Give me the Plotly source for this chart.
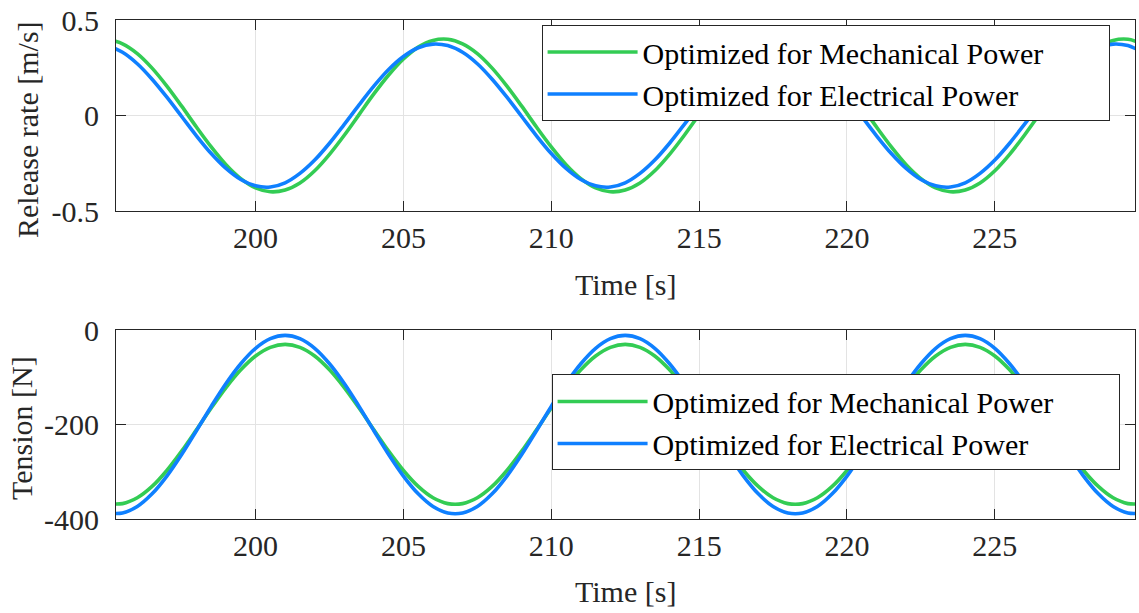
import plotly.graph_objects as go
from plotly.subplots import make_subplots

# ---- data (0.5 s sampling) ----
time_s = [195.0 + 0.5 * k for k in range(71)]

_rel_mech_cycle = [0.399, 0.375, 0.324, 0.248, 0.154, 0.049, -0.060, -0.164, -0.257, -0.330,
                   -0.379, -0.399, -0.390, -0.353, -0.289, -0.203, -0.103, 0.005, 0.113, 0.212,
                   0.296, 0.358, 0.393]
_rel_elec_cycle = [0.366, 0.331, 0.271, 0.190, 0.096, -0.005, -0.106, -0.199, -0.277, -0.335,
                   -0.368, -0.374, -0.352, -0.303, -0.233, -0.145, -0.046, 0.056, 0.154, 0.241,
                   0.309, 0.355, 0.374]
_ten_mech_cycle = [-367.4, -367.4, -355.0, -331.0, -297.2, -256.3, -211.1, -165.0, -121.5, -83.9,
                   -54.7, -36.3, -30.0, -36.3, -54.7, -83.9, -121.5, -165.0, -211.1, -256.3,
                   -297.2, -331.0, -355.0]
_ten_elec_cycle = [-387.2, -387.2, -373.4, -346.6, -309.0, -263.3, -212.9, -161.5, -113.0, -71.1,
                   -38.5, -18.0, -11.0, -18.0, -38.5, -71.1, -113.0, -161.5, -212.9, -263.3,
                   -309.0, -346.6, -373.4]

release_mech = (_rel_mech_cycle * 4)[:71]
release_elec = (_rel_elec_cycle * 4)[:71]
tension_mech = (_ten_mech_cycle * 4)[:71]
tension_elec = (_ten_elec_cycle * 4)[:71]

series_names = ["Optimized for Mechanical Power", "Optimized for Electrical Power"]
x_ticks = [200, 205, 210, 215, 220, 225]
top_y_ticks = [-0.5, 0, 0.5]
top_y_labels = ["-0.5", "0", "0.5"]
bot_y_ticks = [-400, -200, 0]
bot_y_labels = ["-400", "-200", "0"]

GREEN = "#33CC54"
BLUE = "#0F80FF"
FONT = "Liberation Serif"
AXC = "#262626"
PAD = "\u00a0" * 8  # right padding inside the legend box

fig = make_subplots(rows=2, cols=1, vertical_spacing=0.0)

fig.add_trace(go.Scatter(x=time_s, y=release_mech, mode="lines", name=series_names[0] + PAD,
                         line=dict(color=GREEN, width=3.6, shape="spline"), legend="legend"), row=1, col=1)
fig.add_trace(go.Scatter(x=time_s, y=release_elec, mode="lines", name=series_names[1] + PAD,
                         line=dict(color=BLUE, width=3.6, shape="spline"), legend="legend"), row=1, col=1)
fig.add_trace(go.Scatter(x=time_s, y=tension_mech, mode="lines", name=series_names[0] + PAD,
                         line=dict(color=GREEN, width=3.6, shape="spline"), legend="legend2"), row=2, col=1)
fig.add_trace(go.Scatter(x=time_s, y=tension_elec, mode="lines", name=series_names[1] + PAD,
                         line=dict(color=BLUE, width=3.6, shape="spline"), legend="legend2"), row=2, col=1)

axis_common = dict(showline=True, linecolor=AXC, linewidth=1, mirror="ticks", ticks="inside",
                   ticklen=10, tickcolor=AXC, tickwidth=1, showgrid=True, gridcolor="#E3E3E3",
                   gridwidth=1, zeroline=False, tickfont=dict(family=FONT, size=30, color="#262626"))

fig.update_xaxes(range=[195.28, 229.74], tickvals=x_ticks, ticklabelstandoff=0, **axis_common)
fig.update_yaxes(ticklabelstandoff=10, **axis_common)
fig.update_yaxes(range=[-0.5, 0.5], tickvals=top_y_ticks, ticktext=top_y_labels, row=1, col=1)
fig.update_yaxes(range=[-400, 0], tickvals=bot_y_ticks, ticktext=bot_y_labels, row=2, col=1)

H = 504.0
def py(p):
    return (519.0 - p) / H

def px(p):
    return (p - 116.0) / 1020.0

fig.update_layout(
    width=1139, height=613,
    margin=dict(l=116, r=3, t=15, b=94),
    paper_bgcolor="white", plot_bgcolor="white",
    font=dict(family=FONT, size=30, color="#262626"),
    xaxis=dict(domain=[0, 1]), xaxis2=dict(domain=[0, 1]),
    yaxis=dict(domain=[py(208), 1.0]),
    yaxis2=dict(domain=[0.0, py(328.3)]),
    legend=dict(x=px(542), y=py(20), xanchor="left", yanchor="top", bgcolor="white",
                bordercolor=AXC, borderwidth=1, font=dict(family=FONT, size=30, color="black"),
                itemwidth=90, tracegroupgap=0),
    legend2=dict(x=px(552), y=py(373), xanchor="left", yanchor="top", bgcolor="white",
                 bordercolor=AXC, borderwidth=1, font=dict(family=FONT, size=30, color="black"),
                 itemwidth=90, tracegroupgap=0),
    showlegend=True,
)

ann_font = dict(family=FONT, size=30, color="#262626")
fig.add_annotation(text="Time [s]", xref="paper", yref="paper", x=px(626), y=py(282),
                   xanchor="center", yanchor="middle", showarrow=False, font=ann_font)
fig.add_annotation(text="Time [s]", xref="paper", yref="paper", x=px(626), y=py(592),
                   xanchor="center", yanchor="middle", showarrow=False, font=ann_font)
fig.add_annotation(text="Release rate [m/s]", xref="paper", yref="paper", x=px(28), y=py(126),
                   xanchor="center", yanchor="middle", textangle=-90, showarrow=False, font=ann_font)
fig.add_annotation(text="Tension [N]", xref="paper", yref="paper", x=px(22), y=py(427),
                   xanchor="center", yanchor="middle", textangle=-90, showarrow=False, font=ann_font)

fig.write_html("out.html")
